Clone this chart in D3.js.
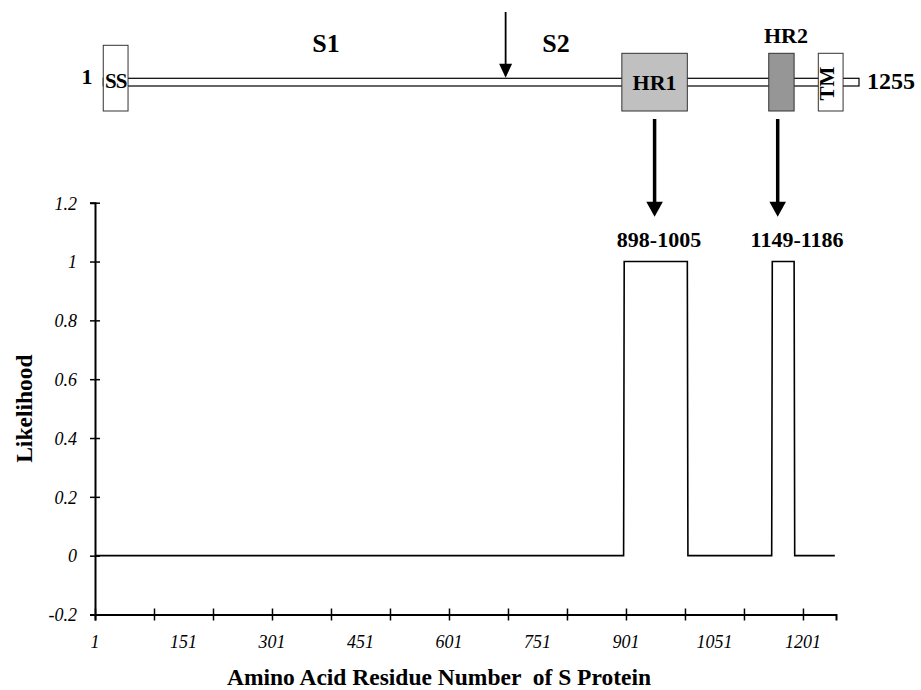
<!DOCTYPE html>
<html>
<head>
<meta charset="utf-8">
<script src="https://cdn.jsdelivr.net/npm/d3@7"></script>
<style>
  body { margin: 0; background: #fff; }
  text { font-family: "Liberation Serif", "Times New Roman", serif; fill: #000; }
</style>
</head>
<body>
<svg width="921" height="690"></svg>
<script>
// likelihood profile (breakpoints of the step trace)
var residues   = [1, 897, 898, 1005, 1006, 1148, 1149, 1186, 1187, 1255];
var likelihood = [0, 0,   1,   1,    0,    0,    1,    1,    0,    0];

var xTicks = [1, 101, 201, 301, 401, 501, 601, 701, 801, 901, 1001, 1101, 1201];
var xTickLabels = [1, 151, 301, 451, 601, 751, 901, 1051, 1201];
var yTicks = [-0.2, 0, 0.2, 0.4, 0.6, 0.8, 1, 1.2];
var yTickLabels = ["-0.2", "0", "0.2", "0.4", "0.6", "0.8", "1", "1.2"];

// schematic domains of the S protein (residue units)
var domainNames  = ["SS", "HR1", "HR2", "TM"];
var domainStarts = [15, 894, 1143, 1227];
var domainEnds   = [57, 1005, 1186, 1269];
var domainFills  = ["#ffffff", "#c0c0c0", "#969696", "#ffffff"];
var hitLabels  = ["898-1005", "1149-1186"];
var hitCenters = [957, 1191];
var cleavageSite = 697;

var svg = d3.select("svg");

var x = d3.scaleLinear().domain([1, 1257]).range([95, 836]);
var y = d3.scaleLinear().domain([-0.2, 1.2]).range([614.5, 202.7]);

var pts = residues.map(function (r, i) { return [r, likelihood[i]]; });

// ---- plot ----
var xAxis = svg.append("g")
    .attr("transform", "translate(0," + y(-0.2) + ")")
    .call(d3.axisBottom(x).tickValues(xTicks).tickFormat("").tickSizeOuter(0).tickSize(6));
xAxis.select(".domain").attr("stroke", "#000").attr("stroke-width", 2);
xAxis.selectAll(".tick line").attr("y1", -6).attr("y2", 6).attr("stroke-width", 1.5);

svg.append("g").selectAll("text")
    .data(xTickLabels)
    .enter().append("text")
    .attr("x", function (d) { return x(d); })
    .attr("y", 648)
    .attr("text-anchor", "middle")
    .style("font-style", "italic")
    .style("font-size", "18px")
    .text(function (d) { return d; });

var yAxis = svg.append("g")
    .attr("transform", "translate(95,0)")
    .call(d3.axisLeft(y).tickValues(yTicks).tickFormat(function (d, i) { return yTickLabels[i]; }).tickSizeOuter(0).tickSize(5).tickPadding(13));
yAxis.select(".domain").attr("stroke", "#000").attr("stroke-width", 2);
yAxis.selectAll(".tick line").attr("x1", -5).attr("x2", 5).attr("stroke-width", 1.5);
yAxis.selectAll(".tick text")
    .attr("dy", "0.35em")
    .style("font-family", "'Liberation Serif', 'Times New Roman', serif")
    .style("font-style", "italic")
    .style("font-size", "18px");

svg.append("path")
    .datum(pts)
    .attr("fill", "none")
    .attr("stroke", "#000")
    .attr("stroke-width", 1.6)
    .attr("d", d3.line().x(function (d) { return x(d[0]); }).y(function (d) { return y(d[1]); }));

svg.append("text")
    .attr("transform", "translate(32," + (y(-0.2) + y(1.2)) / 2 + ") rotate(-90)")
    .attr("text-anchor", "middle")
    .style("font-weight", "bold")
    .style("font-size", "23.5px")
    .text("Likelihood");

svg.append("text")
    .attr("x", 439)
    .attr("y", 685)
    .attr("text-anchor", "middle")
    .style("font-weight", "bold")
    .style("font-size", "23.5px")
    .attr("xml:space", "preserve")
    .text("Amino Acid Residue Number  of S Protein");

// ---- schematic ----
var boxTop = 53.3, boxBot = 111;

svg.append("rect")
    .attr("x", x(15)).attr("y", 78.3)
    .attr("width", 859 - x(15)).attr("height", 7.7)
    .attr("fill", "#fff").attr("stroke", "#000").attr("stroke-width", 1.2);

domainNames.forEach(function (n, i) {
    var isSS = n === "SS";
    svg.append("rect")
        .attr("x", x(domainStarts[i]))
        .attr("y", isSS ? 45.3 : boxTop)
        .attr("width", x(domainEnds[i]) - x(domainStarts[i]))
        .attr("height", isSS ? boxBot - 45.3 : boxBot - boxTop)
        .attr("fill", domainFills[i])
        .attr("stroke", "#333").attr("stroke-width", 1);
});

var hr1Mid = (x(domainStarts[1]) + x(domainEnds[1])) / 2;

svg.append("text").attr("x", x(36)).attr("y", 88).attr("text-anchor", "middle")
    .style("font-weight", "bold").style("font-size", "21px").style("letter-spacing", "-1px").text("SS");
svg.append("text").attr("x", hr1Mid).attr("y", 90).attr("text-anchor", "middle")
    .style("font-weight", "bold").style("font-size", "22px").text("HR1");
svg.append("text").attr("x", 786).attr("y", 43).attr("text-anchor", "middle")
    .style("font-weight", "bold").style("font-size", "22px").text("HR2");
svg.append("text")
    .attr("transform", "translate(833.5,83.5) rotate(-90)")
    .attr("text-anchor", "middle")
    .style("font-weight", "bold").style("font-size", "21px").text("TM");

svg.append("text").attr("x", 87).attr("y", 84).attr("text-anchor", "middle")
    .style("font-weight", "bold").style("font-size", "22px").text("1");
svg.append("text").attr("x", 867).attr("y", 89)
    .style("font-weight", "bold").style("font-size", "24px").text("1255");
svg.append("text").attr("x", 326).attr("y", 52).attr("text-anchor", "middle")
    .style("font-weight", "bold").style("font-size", "26px").text("S1");
svg.append("text").attr("x", 556).attr("y", 52).attr("text-anchor", "middle")
    .style("font-weight", "bold").style("font-size", "26px").text("S2");

function arrow(cx, y0, y1, w, hw, hl) {
    svg.append("line").attr("x1", cx).attr("x2", cx).attr("y1", y0).attr("y2", y1 - hl + 1)
        .attr("stroke", "#000").attr("stroke-width", w);
    svg.append("path")
        .attr("d", "M" + (cx - hw) + "," + (y1 - hl) + "L" + (cx + hw) + "," + (y1 - hl) + "L" + cx + "," + y1 + "Z")
        .attr("fill", "#000");
}
arrow(x(cleavageSite), 12, 77.7, 1.8, 6.5, 14);
arrow(hr1Mid, 119, 216.7, 3.5, 8.3, 15);
arrow(777.7, 119, 216.7, 3.5, 8.3, 15);

svg.selectAll(".hit")
    .data(hitLabels)
    .enter().append("text")
    .attr("x", function (d, i) { return x(hitCenters[i]); })
    .attr("y", 247)
    .attr("text-anchor", "middle")
    .style("font-weight", "bold")
    .style("font-size", "22px")
    .text(function (d) { return d; });
</script>
</body>
</html>
